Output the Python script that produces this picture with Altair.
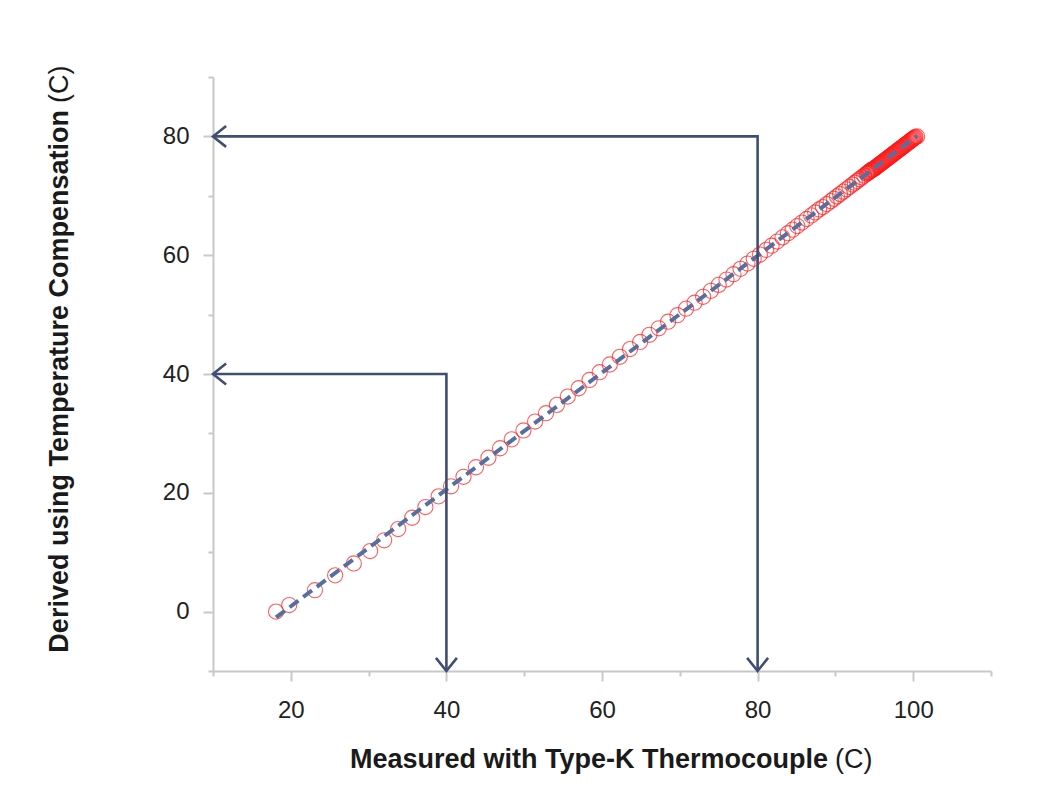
import altair as alt
import pandas as pd

# Measured (Type-K thermocouple) vs derived (temperature compensation), in C
measured = [18.1, 19.8, 23.1, 25.7, 28.1, 30.2, 32.0, 33.8, 35.6, 37.3, 39.0, 40.6,
            42.2, 43.8, 45.4, 46.9, 48.4, 49.9, 51.4, 52.8, 54.2, 55.6, 57.0, 58.4,
            59.7, 61.0, 62.3, 63.6, 64.9, 66.1, 67.3, 68.5, 69.7, 70.8, 71.9, 73.0,
            74.0, 75.0, 76.0, 76.9, 77.8, 78.7, 79.5, 80.3, 81.1, 81.8, 82.5, 83.2,
            83.9, 84.5, 85.1, 85.7, 86.3, 86.9, 87.4, 87.9, 88.4, 88.9, 89.4, 89.8,
            90.2, 90.6, 91.0, 91.4, 91.8, 92.2, 92.5, 92.8, 93.1, 93.4, 93.7, 94.0,
            94.1, 94.2, 94.3, 94.4, 94.5, 94.6, 94.7, 94.8, 94.9, 95.0, 95.1, 95.2,
            95.3, 95.4, 95.5, 95.6, 95.7, 95.8, 95.9, 96.0, 96.1, 96.2, 96.3, 96.4,
            96.5, 96.6, 96.7, 96.8, 96.9, 97.0, 97.1, 97.2, 97.3, 97.4, 97.5, 97.6,
            97.7, 97.8, 97.9, 98.0, 98.1, 98.2, 98.3, 98.4, 98.5, 98.6, 98.7, 98.8,
            98.9, 99.0, 99.1, 99.2, 99.3, 99.4, 99.5, 99.6, 99.7, 99.8, 99.9, 100.0,
            100.1, 100.2, 100.3, 100.5]
derived = [0.0, 1.1, 3.6, 6.1, 8.1, 10.2, 12.0, 13.9, 15.8, 17.6, 19.4, 21.1,
           22.7, 24.3, 25.9, 27.5, 29.0, 30.5, 32.0, 33.4, 34.8, 36.2, 37.6, 39.0,
           40.3, 41.6, 42.9, 44.2, 45.4, 46.6, 47.7, 48.8, 49.9, 51.0, 52.0, 53.0,
           54.0, 55.0, 55.9, 56.8, 57.7, 58.6, 59.4, 60.1, 60.9, 61.6, 62.3, 63.0,
           63.7, 64.3, 64.9, 65.5, 66.1, 66.7, 67.2, 67.7, 68.1, 68.6, 69.1, 69.5,
           69.9, 70.3, 70.7, 71.1, 71.5, 71.9, 72.2, 72.5, 72.8, 73.1, 73.4, 73.7,
           73.8, 73.9, 74.0, 74.1, 74.2, 74.3, 74.4, 74.4, 74.5, 74.6, 74.7, 74.8,
           74.9, 75.0, 75.1, 75.2, 75.3, 75.4, 75.5, 75.6, 75.7, 75.8, 75.9, 76.0,
           76.1, 76.2, 76.3, 76.4, 76.5, 76.6, 76.7, 76.8, 76.9, 77.0, 77.1, 77.2,
           77.3, 77.4, 77.5, 77.6, 77.7, 77.8, 77.9, 78.0, 78.1, 78.2, 78.3, 78.4,
           78.5, 78.6, 78.7, 78.8, 78.9, 79.0, 79.1, 79.2, 79.3, 79.4, 79.5, 79.6,
           79.7, 79.8, 79.9, 80.0]

# Guide arrows (data coordinates)
guide_x = [40, 40, 10, 80, 80, 10]
guide_y = [-10, 40, 40, -10, 80, 80]
guide_grp = ["a", "a", "a", "b", "b", "b"]
guide_ord = [0, 1, 2, 0, 1, 2]

head_left_x = [10, 10]
head_left_y = [40, 80]
head_down_x = [40, 80]
head_down_y = [-10, -10]

x_ticks = [10, 20, 30, 40, 50, 60, 70, 80, 90, 100, 110]
y_ticks = [-10, 0, 10, 20, 30, 40, 50, 60, 70, 80, 90]

x_title = "Measured with Type-K Thermocouple"
y_title = "Derived using Temperature Compensation"
unit = "(C)"

FONT = "Liberation Sans"
AX = "#c8c8c8"
NAVY = "#3f4e72"
TFS = 27

pts = pd.DataFrame({"x": measured, "y": derived})
guides = pd.DataFrame({"x": guide_x, "y": guide_y, "g": guide_grp, "o": guide_ord})
hl = pd.DataFrame({"x": head_left_x, "y": head_left_y})
hd = pd.DataFrame({"x": head_down_x, "y": head_down_y})

major = "datum.value % 20 === 0"
xscale = alt.Scale(domain=[10, 110], nice=False, zero=False)
yscale = alt.Scale(domain=[-10, 90], nice=False, zero=False)

common_axis = dict(
    title=None, grid=False, domainColor=AX, domainWidth=2,
    tickColor=AX, tickWidth=2,
    tickSize={"condition": {"test": major, "value": 10}, "value": 5},
    labelExpr=f"{major} ? datum.label : ''",
    labelFont=FONT, labelFontSize=24, labelColor="#222222",
)
xaxis = alt.Axis(values=x_ticks, labelPadding=17, **common_axis)
yaxis = alt.Axis(values=y_ticks, labelPadding=14, **common_axis)

X = alt.X("x:Q", scale=xscale, axis=xaxis)
Y = alt.Y("y:Q", scale=yscale, axis=yaxis)

points = alt.Chart(pts).mark_point(
    shape="circle", size=230, filled=False, stroke="#ff1a1a", strokeWidth=1.1, opacity=0.7
).encode(x=X, y=Y)

fit = alt.Chart(pts).transform_regression("x", "y").mark_line(
    color="#55709e", strokeWidth=4, strokeDash=[11, 6]
).encode(x=alt.X("x:Q", scale=xscale), y=alt.Y("y:Q", scale=yscale))

lines = alt.Chart(guides).mark_line(
    color=NAVY, strokeWidth=2.6, strokeJoin="miter"
).encode(x=alt.X("x:Q", scale=xscale), y=alt.Y("y:Q", scale=yscale),
         detail="g:N", order="o:Q")

left_heads = alt.Chart(hl).mark_point(
    shape="M1.25,-1L0,0L1.25,1", size=440, filled=False, stroke=NAVY, strokeWidth=2.6, opacity=1
).encode(x=alt.X("x:Q", scale=xscale), y=alt.Y("y:Q", scale=yscale))

down_heads = alt.Chart(hd).mark_point(
    shape="M-1,-1.25L0,0L1,-1.25", size=440, filled=False, stroke=NAVY, strokeWidth=2.6, opacity=1
).encode(x=alt.X("x:Q", scale=xscale), y=alt.Y("y:Q", scale=yscale))

xt_bold = alt.Chart(pd.DataFrame({"t": [x_title]})).mark_text(
    font=FONT, fontSize=TFS, fontWeight="bold", color="#1a1a1a", align="right", baseline="middle"
).encode(text="t:N", x=alt.value(615), y=alt.value(683))
xt_unit = alt.Chart(pd.DataFrame({"t": [unit]})).mark_text(
    font=FONT, fontSize=TFS, color="#1a1a1a", align="left", baseline="middle"
).encode(text="t:N", x=alt.value(622), y=alt.value(683))

yt_bold = alt.Chart(pd.DataFrame({"t": [y_title]})).mark_text(
    font=FONT, fontSize=TFS, fontWeight="bold", color="#1a1a1a", align="right",
    baseline="middle", angle=270
).encode(text="t:N", x=alt.value(-153), y=alt.value(33))
yt_unit = alt.Chart(pd.DataFrame({"t": [unit]})).mark_text(
    font=FONT, fontSize=TFS, color="#1a1a1a", align="left",
    baseline="middle", angle=270
).encode(text="t:N", x=alt.value(-153), y=alt.value(26))

chart = alt.layer(
    points, fit, lines, left_heads, down_heads, xt_bold, xt_unit, yt_bold, yt_unit
).properties(
    width=778, height=594,
    autosize=alt.AutoSizeParams(type="none"),
    padding={"left": 205, "top": 69, "right": 40, "bottom": 110},
    background="white",
).configure_view(stroke=None)

chart.save("out.html", embed_options={"renderer": "svg", "actions": False})
